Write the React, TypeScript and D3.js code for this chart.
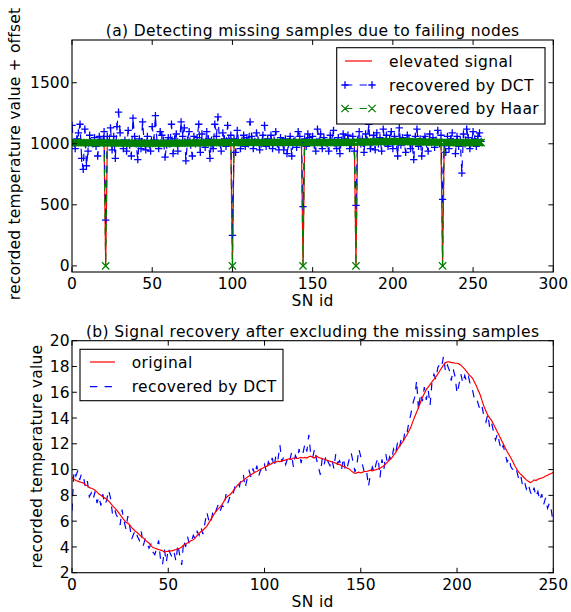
import React from 'react';
import * as d3 from 'd3';

// ---------- data ----------
const ORIGINAL: number[] = [
  9.4, 9.25, 9.15, 9.1, 9.05, 9.0, 8.95, 8.8, 8.75, 8.6,
  8.55, 8.5, 8.4, 8.25, 8.1, 8.0, 7.9, 7.8, 7.7, 7.55,
  7.4, 7.2, 7.05, 6.9, 6.7, 6.5, 6.3, 6.1, 5.9, 5.85,
  5.7, 5.5, 5.35, 5.2, 5.1, 4.95, 4.8, 4.7, 4.55, 4.4,
  4.3, 4.1, 3.95, 3.9, 3.85, 3.8, 3.75, 3.7, 3.6, 3.65,
  3.65, 3.7, 3.7, 3.75, 3.8, 3.85, 3.9, 4.0, 4.15, 4.25,
  4.3, 4.4, 4.5, 4.55, 4.7, 4.9, 5.05, 5.2, 5.3, 5.45,
  5.6, 5.85, 6.1, 6.35, 6.6, 6.8, 6.95, 7.1, 7.3, 7.55,
  7.8, 7.95, 8.05, 8.2, 8.4, 8.6, 8.8, 8.95, 9.05, 9.15,
  9.3, 9.4, 9.5, 9.6, 9.7, 9.8, 9.85, 9.95, 10.05, 10.1,
  10.2, 10.25, 10.35, 10.4, 10.5, 10.55, 10.6, 10.65, 10.6, 10.7,
  10.7, 10.75, 10.8, 10.85, 10.8, 10.9, 10.9, 10.85, 10.9, 10.95,
  10.9, 10.95, 10.9, 11.0, 11.05, 10.95, 10.9, 11.05, 10.95, 10.9,
  10.85, 10.8, 10.75, 10.7, 10.65, 10.6, 10.55, 10.5, 10.4, 10.4,
  10.3, 10.25, 10.2, 10.1, 10.05, 9.9, 9.8, 9.7, 9.75, 9.8,
  9.75, 9.8, 9.85, 9.85, 9.9, 9.95, 9.9, 9.95, 10.0, 10.05,
  10.1, 10.2, 10.3, 10.45, 10.6, 10.75, 10.9, 11.1, 11.3, 11.55,
  11.8, 12.0, 12.2, 12.45, 12.7, 13.0, 13.3, 13.7, 14.1, 14.45,
  14.8, 15.2, 15.6, 15.9, 16.2, 16.4, 16.6, 16.8, 17.0, 17.2,
  17.4, 17.65, 17.9, 18.1, 18.3, 18.35, 18.35, 18.3, 18.3, 18.25,
  18.25, 18.2, 18.1, 17.95, 17.8, 17.6, 17.4, 17.25, 17.1, 16.8,
  16.5, 16.15, 15.8, 15.35, 14.9, 14.55, 14.2, 14.0, 13.8, 13.5,
  13.2, 12.9, 12.6, 12.3, 12.0, 11.7, 11.4, 11.15, 10.9, 10.6,
  10.3, 10.05, 9.8, 9.65, 9.5, 9.35, 9.2, 9.1, 9.0, 9.05,
  9.2, 9.15, 9.25, 9.3, 9.35, 9.4, 9.5, 9.55, 9.65, 9.7,
  9.8,
];

const DCT_BOTTOM: number[] = [
  6.8, 9.9, 9.5, 9.9, 9.2, 9.7, 9.4, 8.6, 9.1, 7.9,
  8.2, 7.7, 8.3, 7.4, 7.9, 7.2, 8.1, 7.3, 7.6, 8.4,
  7.8, 6.6, 7.0, 6.5, 6.2, 5.7, 6.9, 6.0, 5.4, 6.4,
  5.6, 4.6, 5.0, 5.3, 4.8, 4.5, 5.2, 4.1, 4.6, 4.3,
  3.9, 4.2, 3.6, 3.4, 3.9, 4.5, 3.0, 2.6, 3.8, 2.8,
  3.9, 3.5, 3.2, 3.6, 2.9, 4.2, 3.3, 2.6, 4.5, 4.0,
  4.8, 4.2, 4.4, 4.9, 4.6, 5.2, 4.9, 5.5, 5.0, 5.8,
  6.7, 6.1, 5.8, 6.6, 6.4, 6.9, 7.3, 6.8, 7.2, 7.1,
  8.1, 7.4, 7.9, 7.8, 8.3, 8.9, 9.0, 8.7, 9.4, 9.6,
  8.6, 9.3, 9.9, 9.4, 10.1, 9.6, 10.3, 9.5, 10.0, 9.9,
  10.4, 9.8, 10.6, 10.3, 10.9, 10.2, 11.2, 10.8, 11.9, 10.6,
  11.0, 10.4, 10.9, 10.6, 11.3, 10.2, 11.1, 10.8, 11.6, 10.5,
  11.3, 12.0, 11.4, 12.7, 11.2, 10.9, 11.6, 10.8, 10.2, 9.6,
  10.9, 10.4, 11.1, 10.6, 10.3, 10.8, 10.1, 11.2, 10.5, 10.7,
  10.0, 10.9, 9.9, 10.2, 10.8, 11.3, 10.6, 9.8, 10.4, 11.6,
  11.0, 10.3, 9.7, 9.9, 8.7, 9.6, 10.2, 9.8, 10.5, 10.9,
  9.4, 10.8, 10.0, 11.2, 10.4, 11.0, 10.7, 11.6, 11.2, 12.0,
  11.6, 12.4, 12.1, 13.0, 12.8, 13.7, 14.3, 15.1, 15.6, 16.9,
  14.6, 15.9, 15.3, 16.4, 15.4, 16.2, 15.0, 16.8, 17.4, 17.0,
  17.9, 18.2, 18.0, 18.8, 17.6, 18.1, 17.7, 16.9, 17.8, 17.2,
  15.9, 16.6, 17.4, 16.7, 17.3, 16.8, 17.2, 16.5, 16.2, 15.5,
  15.6, 15.1, 14.6, 14.9, 14.1, 13.7, 14.3, 13.2, 13.6, 12.9,
  12.3, 12.8, 12.1, 11.5, 11.9, 11.2, 10.6, 10.9, 10.2, 10.0,
  9.7, 9.9, 9.3, 9.6, 8.8, 9.1, 8.5, 8.9, 8.3, 8.0,
  8.6, 7.9, 8.3, 7.6, 8.1, 7.3, 7.8, 7.0, 7.4, 6.8,
  5.8,
];

const DCT_TOP: number[] = [
  1150, 1010, 960, 1040, 1090, 1160, 880, 790, 1120, 820,
  940, 1070, 1010, 1000, 1050, 980, 900, 1060, 1030, 1010,
  1100, 375, 1060, 1010, 1130, 950, 1060, 880, 1140, 1260,
  1090, 1010, 960, 1030, 940, 1110, 990, 900, 1210, 1060,
  1000, 870, 1040, 960, 1180, 1010, 950, 1060, 1000, 940,
  1140, 1030, 1230, 1010, 960, 1100, 1070, 1030, 890, 990,
  1050, 1000, 1160, 920, 1040, 1080, 940, 1010, 1180, 1060,
  1130, 860, 1030, 1100, 990, 900, 1060, 1000, 1050, 1160,
  930, 1080, 1010, 970, 1100, 1040, 880, 1030, 960, 1160,
  1060, 1220, 1010, 940, 1090, 1040, 980, 1150, 1020, 1070,
  250, 1040, 930, 1110, 1010, 960, 1030, 1070, 980, 1050,
  1000, 1180, 1060, 960, 1020, 1090, 1030, 950, 1000, 1070,
  1150, 980, 1040, 990, 1070, 960, 1030, 1100, 1000, 950,
  1050, 1010, 950, 1040, 920, 1000, 1060, 900, 1020, 1030,
  970, 1100, 1060, 1010, 485, 1040, 980, 1080, 1050, 1010,
  1060, 990, 940, 1120, 1020, 1080, 960, 1050, 1010, 1000,
  940, 1070, 1020, 1110, 1000, 960, 1050, 920, 1030, 1080,
  1040, 1010, 1070, 960, 990, 1060, 940, 495, 1030, 1100,
  1000, 1040, 930, 1080, 1030, 1160, 960, 1010, 1070, 950,
  1090, 1000, 1050, 940, 1120, 1010, 1070, 980, 1040, 1100,
  960, 1060, 1020, 900, 1130, 990, 1050, 1010, 930, 1070,
  1040, 960, 1000, 870, 1060, 1120, 980, 1040, 900, 1030,
  1060, 1000, 940, 1080, 1010, 1050, 970, 1030, 1110, 1000,
  1070, 545, 1000, 930, 1060, 960, 1040, 1090, 1010, 920,
  1060, 980, 1030, 760, 1080, 1000, 1120, 1050, 960, 1010,
  1100, 1040, 980, 1060, 1090, 1020,
];

const MISSING: number[] = [21, 100, 144, 177, 231];
const OFFSET = 1000;

const TOP_X_TICKS = [0, 50, 100, 150, 200, 250, 300];
const TOP_Y_TICKS = [0, 500, 1000, 1500];
const BOT_X_TICKS = [0, 50, 100, 150, 200, 250];
const BOT_Y_TICKS = [2, 4, 6, 8, 10, 12, 14, 16, 18, 20];

const TOP_TITLE = '(a) Detecting missing samples due to failing nodes';
const BOT_TITLE = '(b) Signal recovery after excluding the missing samples';
const TOP_YLABEL = 'recorded temperature value + offset';
const BOT_YLABEL = 'recorded temperature value';
const XLABEL = 'SN id';
const TOP_LEGEND = ['elevated signal', 'recovered by DCT', 'recovered by Haar'];
const BOT_LEGEND = ['original', 'recovered by DCT'];

// elevated signal: original + offset, with zeros at failing nodes
const ELEVATED: number[] = (() => {
  const out: number[] = [];
  let j = 0;
  const n = ORIGINAL.length + MISSING.length;
  for (let i = 0; i < n; i++) {
    if (MISSING.includes(i)) out.push(0);
    else out.push(ORIGINAL[j++] + OFFSET);
  }
  return out;
})();
const HAAR: number[] = ELEVATED.slice();

// ---------- styles ----------
const FONT = 'DejaVu Sans';
const FS = 15.5;
const LS = 0.38;
const RED = '#ff0000';
const BLUE = '#0000ff';
const GREEN = '#008000';
const TICK = 4.9;
const DASH = '7.3,7.3';
const MS = 3.65;

type Box = { l: number; r: number; t: number; b: number };

function Frame({ box, x, y, xticks, yticks }: { box: Box; x: d3.ScaleLinear<number, number>; y: d3.ScaleLinear<number, number>; xticks: number[]; yticks: number[] }) {
  return (
    <g>
      {xticks.map((v) => (
        <g key={'x' + v}>
          <line x1={x(v)} x2={x(v)} y1={box.b} y2={box.b - TICK} stroke="#000" strokeWidth={1} />
          <line x1={x(v)} x2={x(v)} y1={box.t} y2={box.t + TICK} stroke="#000" strokeWidth={1} />
          <text x={x(v)} y={box.b + 16.8} textAnchor="middle" fontFamily={FONT} fontSize={FS}>{v}</text>
        </g>
      ))}
      {yticks.map((v) => (
        <g key={'y' + v}>
          <line x1={box.l} x2={box.l + TICK} y1={y(v)} y2={y(v)} stroke="#000" strokeWidth={1} />
          <line x1={box.r} x2={box.r - TICK} y1={y(v)} y2={y(v)} stroke="#000" strokeWidth={1} />
          <text x={box.l - 2.5} y={y(v)} dy="0.36em" textAnchor="end" fontFamily={FONT} fontSize={FS}>{v}</text>
        </g>
      ))}
      <rect x={box.l} y={box.t} width={box.r - box.l} height={box.b - box.t} fill="none" stroke="#000" strokeWidth={1.1} />
    </g>
  );
}

const plus = (cx: number, cy: number) => `M${cx - MS},${cy}H${cx + MS}M${cx},${cy - MS}V${cy + MS}`;
const cross = (cx: number, cy: number) => `M${cx - MS},${cy - MS}L${cx + MS},${cy + MS}M${cx - MS},${cy + MS}L${cx + MS},${cy - MS}`;

export default function App() {
  // top panel
  const A: Box = { l: 72, r: 553.3, t: 40, b: 272 };
  const ax = d3.scaleLinear().domain([0, 300]).range([A.l, A.r]);
  const ay = d3.scaleLinear().domain([-50, 1850]).range([A.b, A.t]);
  const lineA = d3.line<number>().x((_, i) => ax(i)).y((d) => ay(d));

  // bottom panel
  const B: Box = { l: 72, r: 553.3, t: 340.7, b: 572.7 };
  const bx = d3.scaleLinear().domain([0, 250]).range([B.l, B.r]);
  const by = d3.scaleLinear().domain([2, 20]).range([B.b, B.t]);
  const lineB = d3.line<number>().x((_, i) => bx(i)).y((d) => by(d));

  const plusPath = DCT_TOP.map((d, i) => plus(ax(i), ay(d))).join('');
  const crossPath = HAAR.map((d, i) => cross(ax(i), ay(d))).join('');

  const cxA = (A.l + A.r) / 2;
  const cxB = (B.l + B.r) / 2;
  const txt = { fontFamily: FONT, fontSize: FS, letterSpacing: LS } as const;

  return (
    <svg width={571} height={612} style={{ position: 'absolute', left: 0, top: 0, background: '#fff' }}>
      <defs>
        <clipPath id="clipA"><rect x={A.l} y={A.t} width={A.r - A.l} height={A.b - A.t} /></clipPath>
        <clipPath id="clipB"><rect x={B.l} y={B.t} width={B.r - B.l} height={B.b - B.t} /></clipPath>
      </defs>
      <rect x={0} y={0} width={571} height={612} fill="#fff" />

      {/* ---- top panel ---- */}
      <g clipPath="url(#clipA)">
        <path d={lineA(ELEVATED) || ''} fill="none" stroke={RED} strokeWidth={1.2} />
        <path d={lineA(DCT_TOP) || ''} fill="none" stroke={BLUE} strokeWidth={1.2} strokeDasharray={DASH} />
        <path d={plusPath} fill="none" stroke={BLUE} strokeWidth={1.3} />
        <path d={lineA(HAAR) || ''} fill="none" stroke={GREEN} strokeWidth={1.2} strokeDasharray={DASH} />
        <path d={crossPath} fill="none" stroke={GREEN} strokeWidth={1.2} />
      </g>
      <Frame box={A} x={ax} y={ay} xticks={TOP_X_TICKS} yticks={TOP_Y_TICKS} />
      <text x={cxA} y={35.5} textAnchor="middle" {...txt}>{TOP_TITLE}</text>
      <text x={cxA} y={305.5} textAnchor="middle" {...txt}>{XLABEL}</text>
      <text transform={`translate(20,${(A.t + A.b) / 2 - 2}) rotate(-90)`} textAnchor="middle" fontFamily={FONT} fontSize={FS} letterSpacing={0.2}>{TOP_YLABEL}</text>

      {/* top legend */}
      <g>
        <rect x={336.7} y={47.7} width={208.3} height={76.3} fill="#fff" stroke="#000" strokeWidth={1.1} />
        <line x1={345} x2={372} y1={61} y2={61} stroke={RED} strokeWidth={1.2} />
        <line x1={345} x2={372} y1={85} y2={85} stroke={BLUE} strokeWidth={1.2} strokeDasharray={DASH} />
        <path d={plus(345, 85) + plus(372, 85)} fill="none" stroke={BLUE} strokeWidth={1.3} />
        <line x1={345} x2={372} y1={108.5} y2={108.5} stroke={GREEN} strokeWidth={1.2} strokeDasharray={DASH} />
        <path d={cross(345, 108.5) + cross(372, 108.5)} fill="none" stroke={GREEN} strokeWidth={1.2} />
        {TOP_LEGEND.map((t, i) => (
          <text key={t} x={389} y={[61, 85, 108.5][i]} dy="0.36em" {...txt}>{t}</text>
        ))}
      </g>

      {/* ---- bottom panel ---- */}
      <g clipPath="url(#clipB)">
        <path d={lineB(DCT_BOTTOM) || ''} fill="none" stroke={BLUE} strokeWidth={1.2} strokeDasharray={DASH} />
        <path d={lineB(ORIGINAL) || ''} fill="none" stroke={RED} strokeWidth={1.2} />
      </g>
      <Frame box={B} x={bx} y={by} xticks={BOT_X_TICKS} yticks={BOT_Y_TICKS} />
      <text x={cxB} y={336.5} textAnchor="middle" {...txt}>{BOT_TITLE}</text>
      <text x={cxB} y={607} textAnchor="middle" {...txt}>{XLABEL}</text>
      <text transform={`translate(41.5,${(B.t + B.b) / 2}) rotate(-90)`} textAnchor="middle" fontFamily={FONT} fontSize={FS} letterSpacing={0.2}>{BOT_YLABEL}</text>

      {/* bottom legend */}
      <g>
        <rect x={80} y={349.3} width={203} height={51.4} fill="#fff" stroke="#000" strokeWidth={1.1} />
        <line x1={90} x2={115} y1={362} y2={362} stroke={RED} strokeWidth={1.2} />
        <line x1={90} x2={115} y1={386.7} y2={386.7} stroke={BLUE} strokeWidth={1.2} strokeDasharray={DASH} />
        {BOT_LEGEND.map((t, i) => (
          <text key={t} x={131.7} y={[362, 386.7][i]} dy="0.36em" {...txt}>{t}</text>
        ))}
      </g>
    </svg>
  );
}
